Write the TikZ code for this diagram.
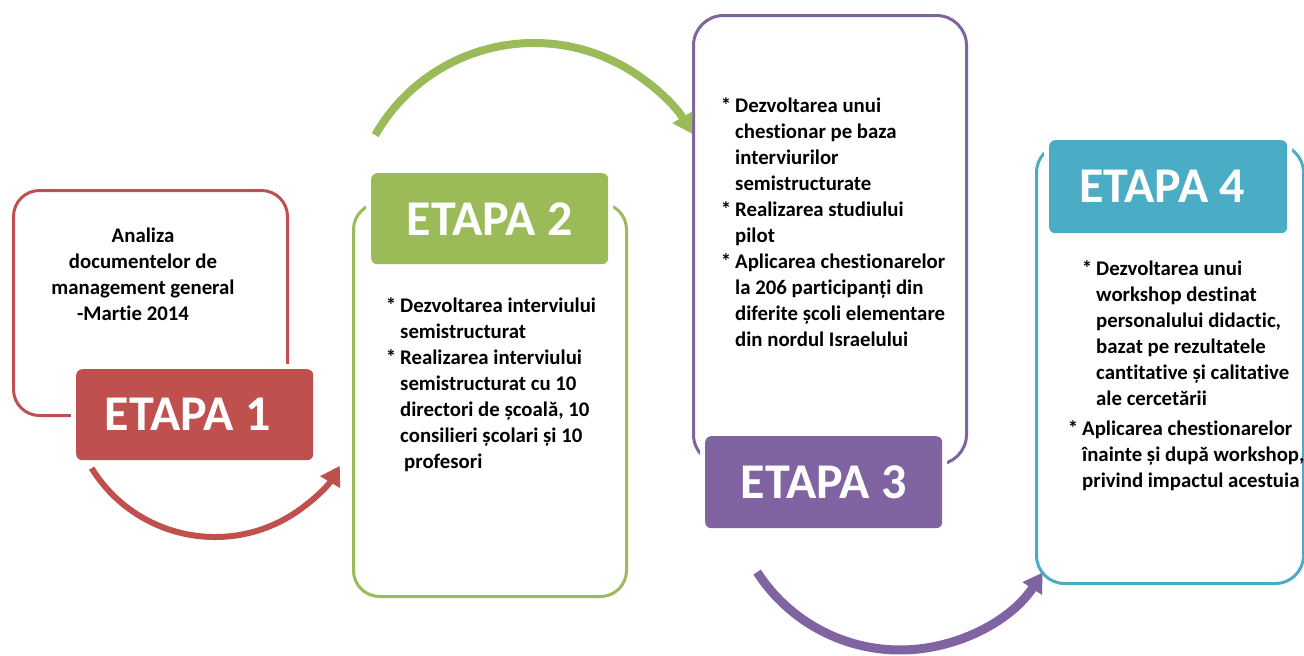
\documentclass[tikz,border=0pt]{standalone}
\usepackage{fontspec}
\setmainfont{Carlito}[Ligatures=NoCommon]
\usetikzlibrary{arrows.meta}
\definecolor{cred}{HTML}{C0504D}
\definecolor{cgreen}{HTML}{9BBB59}
\definecolor{cpurple}{HTML}{8064A2}
\definecolor{ccyan}{HTML}{4BACC6}
\newcommand\stbul{\leavevmode\llap{*\hspace{4pt}}}
\begin{document}
\begin{tikzpicture}[x=1pt,y=-1pt,
  outline/.style={draw=#1, line width=3pt, rounded corners=26pt, fill=white, anchor=north west, inner sep=0pt},
  tab/.style={fill=#1, rounded corners=6pt, anchor=north west, inner sep=0pt, text=white,
     font=\fontsize{50}{52}\selectfont\bfseries, preaction={draw=white,line width=10pt}},
  body/.style={anchor=north west, inner sep=0pt, align=left, font=\fontsize{20.8}{26}\selectfont\bfseries},
  flow/.style={draw=#1, -{Triangle[length=19pt,width=22pt]}},
]
\useasboundingbox[fill=white] (0,0) rectangle (1304,656);

% outlines
\node[outline=cred, minimum width=274pt, minimum height=225pt] (b1) at (12,189) {};
\node[outline=cgreen, minimum width=273pt, minimum height=393pt] (b2) at (352,202) {};
\node[outline=cpurple, minimum width=273pt, minimum height=449pt, rounded corners=30pt] (b3) at (692,14) {};
\node[outline=ccyan, minimum width=267pt, minimum height=439pt, rounded corners=28pt] (b4) at (1035,143) {};

% tabs
\node[tab=cred, minimum width=237pt, minimum height=91pt] (e1) at (76,369) {ETAPA 1\hspace*{14pt}};
\node[tab=cgreen, minimum width=237pt, minimum height=91pt] (e2) at (371,173) {ETAPA 2};
\node[tab=cpurple, minimum width=237pt, minimum height=92pt] (e3) at (705,436) {ETAPA 3};
\node[tab=ccyan, minimum width=238pt, minimum height=93pt] (e4) at (1049,140) {ETAPA 4\hspace*{12pt}};

% texts
\node[body, anchor=north, align=center] (t1) at (143,228)
  {Analiza\\documentelor de\\management general\\-Martie 2014\hspace*{20pt}};
\node[body] (t2) at (400,297)
  {\stbul Dezvoltarea interviului\\semistructurat\\\stbul Realizarea interviului\\semistructurat cu 10\\directori de școală, 10\\consilieri școlari și 10\\\hspace*{4pt}profesori};
\node[body] (t3) at (735,97)
  {\stbul Dezvoltarea unui\\chestionar pe baza\\interviurilor\\semistructurate\\\stbul Realizarea studiului\\pilot\\\stbul Aplicarea chestionarelor\\la 206 participanți din\\diferite școli elementare\\din nordul Israelului};
\node[body] (t4a) at (1096,260)
  {\stbul Dezvoltarea unui\\workshop destinat\\personalului didactic,\\bazat pe rezultatele\\cantitative și calitative\\ale cercetării};
\node[body] (t4b) at (1082,420)
  {\stbul Aplicarea chestionarelor\\înainte și după workshop,\\privind impactul acestuia};

% arrows
\coordinate (rc) at (215,392);
\path (rc) ++(148.3:145) coordinate (rs);
\draw[flow=cred, line width=6pt] (rs) arc[start angle=148.3, end angle=30.6, radius=145];

\coordinate (gc) at (534,226);
\path (gc) ++(209.8:183) coordinate (gs);
\draw[flow=cgreen, line width=8pt] (gs) arc[start angle=209.8, end angle=329.7, radius=183];

\coordinate (pc) at (900,480);
\path (pc) ++(147.2:170) coordinate (ps);
\draw[flow=cpurple, line width=9pt] (ps) arc[start angle=147.2, end angle=33, radius=170];
\end{tikzpicture}
\end{document}
